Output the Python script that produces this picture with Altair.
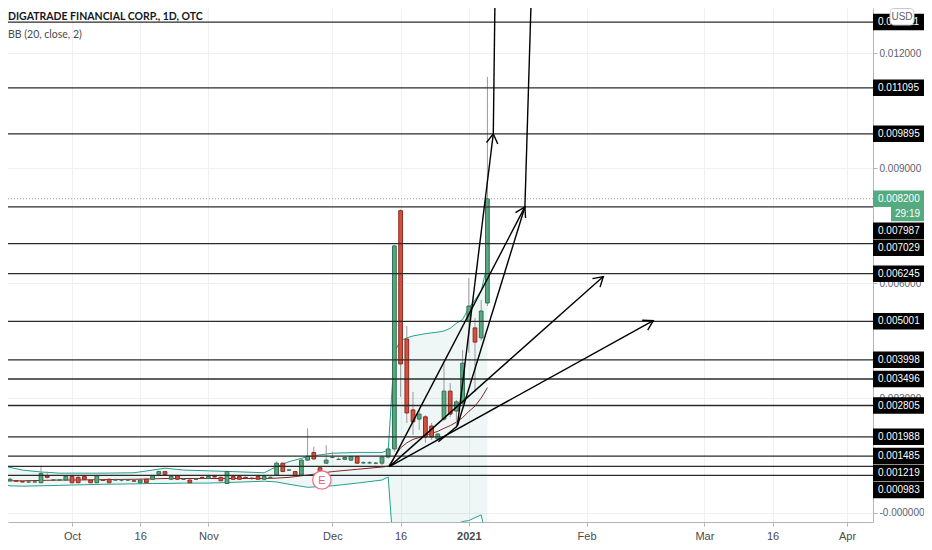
import math
import altair as alt
import pandas as pd

# ---------------- data ----------------
TITLE = "DIGATRADE FINANCIAL CORP., 1D, OTC"
INDICATOR = "BB (20, close, 2)"

bar_idx = list(range(-12, 68))
bar_open = [0.00091, 0.00083, 0.00084, 0.00084, 0.00082, 0.00081, 0.00081, 0.00079, 0.00097, 0.00086,
            0.00086, 0.00086, 0.00095, 0.00093, 0.00095, 0.00086, 0.00079, 0.00086, 0.00088, 0.00086,
            0.00086, 0.00086, 0.00084, 0.00079, 0.00088, 0.00088, 0.00101, 0.00108, 0.00088, 0.00097,
            0.00088, 0.00086, 0.00088, 0.00093, 0.00090, 0.00095, 0.00093, 0.00077, 0.00095, 0.00095,
            0.00093, 0.00091, 0.00095, 0.00088, 0.00093, 0.00099, 0.00130, 0.00112, 0.00108, 0.00099,
            0.00138, 0.00158, 0.00118, 0.00130, 0.00145, 0.00140, 0.00140, 0.00138, 0.00147, 0.00131,
            0.00131, 0.00130, 0.00130, 0.00146, 0.00167, 0.00789, 0.00454, 0.00269, 0.00245, 0.00251,
            0.00227, 0.00193, 0.00245, 0.00318, 0.00266, 0.00287, 0.00500, 0.00483, 0.00457, 0.00548]
bar_high = [0.00095, 0.00086, 0.00092, 0.00086, 0.00084, 0.00083, 0.00083, 0.00123, 0.00108, 0.00088,
            0.00088, 0.00099, 0.00097, 0.00096, 0.00098, 0.00088, 0.00099, 0.00088, 0.00090, 0.00090,
            0.00088, 0.00089, 0.00087, 0.00088, 0.00090, 0.00099, 0.00110, 0.00110, 0.00097, 0.00099,
            0.00090, 0.00088, 0.00090, 0.00095, 0.00096, 0.00097, 0.00095, 0.00110, 0.00097, 0.00097,
            0.00095, 0.00093, 0.00097, 0.00096, 0.00095, 0.00135, 0.00132, 0.00114, 0.00110, 0.00140,
            0.00221, 0.00173, 0.00122, 0.00177, 0.00160, 0.00145, 0.00147, 0.00148, 0.00149, 0.00135,
            0.00135, 0.00133, 0.00150, 0.00172, 0.00700, 0.00792, 0.00488, 0.00316, 0.00269, 0.00255,
            0.00235, 0.00209, 0.00391, 0.00339, 0.00295, 0.00425, 0.00613, 0.00509, 0.00556, 0.01138]
bar_low = [0.00079, 0.00081, 0.00082, 0.00082, 0.00080, 0.00080, 0.00080, 0.00078, 0.00090, 0.00085,
           0.00085, 0.00085, 0.00078, 0.00078, 0.00087, 0.00078, 0.00078, 0.00084, 0.00078, 0.00084,
           0.00082, 0.00084, 0.00082, 0.00078, 0.00078, 0.00087, 0.00100, 0.00099, 0.00086, 0.00086,
           0.00086, 0.00078, 0.00086, 0.00090, 0.00089, 0.00093, 0.00083, 0.00076, 0.00087, 0.00087,
           0.00091, 0.00086, 0.00087, 0.00087, 0.00091, 0.00097, 0.00107, 0.00110, 0.00095, 0.00098,
           0.00136, 0.00139, 0.00106, 0.00129, 0.00143, 0.00138, 0.00138, 0.00136, 0.00128, 0.00128,
           0.00128, 0.00127, 0.00125, 0.00142, 0.00160, 0.00303, 0.00235, 0.00204, 0.00217, 0.00183,
           0.00191, 0.00190, 0.00240, 0.00250, 0.00222, 0.00280, 0.00418, 0.00316, 0.00450, 0.00540]
bar_close = [0.00080, 0.00083, 0.00088, 0.00083, 0.00081, 0.00081, 0.00081, 0.00103, 0.00093, 0.00086,
             0.00086, 0.00096, 0.00079, 0.00079, 0.00088, 0.00079, 0.00097, 0.00085, 0.00079, 0.00086,
             0.00086, 0.00086, 0.00083, 0.00086, 0.00079, 0.00097, 0.00108, 0.00100, 0.00095, 0.00088,
             0.00088, 0.00079, 0.00088, 0.00092, 0.00095, 0.00094, 0.00084, 0.00108, 0.00088, 0.00088,
             0.00092, 0.00090, 0.00088, 0.00095, 0.00093, 0.00130, 0.00108, 0.00112, 0.00097, 0.00138,
             0.00148, 0.00141, 0.00108, 0.00138, 0.00145, 0.00140, 0.00145, 0.00147, 0.00130, 0.00131,
             0.00131, 0.00130, 0.00146, 0.00167, 0.00697, 0.00389, 0.00261, 0.00238, 0.00258, 0.00198,
             0.00198, 0.00206, 0.00318, 0.00258, 0.00290, 0.00391, 0.00540, 0.00446, 0.00527, 0.00820]

bb_idx = [-12, -10, -8, -5, -2, 0, 5, 10, 13, 15, 18, 22, 26, 31, 33, 35, 38, 42, 46, 50, 51,
          52, 53, 54, 55, 56, 57, 58, 59, 60, 61, 62, 63, 64, 65, 66, 67]
bb_upper = [0.00127, 0.00119, 0.00112, 0.00107, 0.00104, 0.00104, 0.00104, 0.00105, 0.00112, 0.00117,
            0.00112, 0.00110, 0.00108, 0.00105, 0.00121, 0.00134, 0.00147, 0.00156, 0.00158, 0.00158,
            0.00164, 0.00420, 0.00450, 0.00457, 0.00462, 0.00465, 0.00468, 0.00470, 0.00472, 0.00475,
            0.00482, 0.00495, 0.00505, 0.00535, 0.00556, 0.00580, 0.00650]
bb_basis = [0.00083, 0.00084, 0.00084, 0.00085, 0.00086, 0.00086, 0.00087, 0.00088, 0.00089, 0.00090,
            0.00090, 0.00090, 0.00090, 0.00090, 0.00091, 0.00093, 0.00099, 0.00108, 0.00114, 0.00120,
            0.00122, 0.00145, 0.00170, 0.00183, 0.00192, 0.00197, 0.00203, 0.00208, 0.00213, 0.00221,
            0.00228, 0.00237, 0.00249, 0.00265, 0.00279, 0.00300, 0.00327]
bb_lower = [0.00076, 0.00071, 0.00070, 0.00071, 0.00072, 0.00073, 0.00075, 0.00076, 0.00077, 0.00077,
            0.00078, 0.00078, 0.00080, 0.00083, 0.00081, 0.00075, 0.00067, 0.00071, 0.00078, 0.00086,
            0.00094, -0.00130, -0.00110, -0.00100, -0.00090, -0.00080, -0.00070, -0.00060, -0.00050,
            -0.00045, -0.00040, -0.00030, -0.00022, -0.00020, -0.00012, -0.00005, -0.00080]

tick_idx = [0, 11, 22, 42, 53, 64, 83, 102, 113, 125]
tick_lbl = ["Oct", "16", "Nov", "Dec", "16", "2021", "Feb", "Mar", "16", "Apr"]
price_ticks = [0.0, 0.003, 0.006, 0.009, 0.012]

levels = [0.012811, 0.011095, 0.009895, 0.007987, 0.007029, 0.006245, 0.005001,
          0.003998, 0.003496, 0.002805, 0.001988, 0.001485, 0.001219, 0.000983]
last_price = 0.008200
countdown = "29:19"

# drawing anchor points (bar index, price)
pt_name = ["O1", "O2", "P", "A", "B", "C", "D", "At", "Bt"]
pt_x = [51.2, 62.15, 59.1, 67.95, 73.05, 85.7, 93.75, 68.26, 74.15]
pt_y = [0.00121, 0.00227, 0.00186, 0.009895, 0.007987, 0.00617, 0.00502, 0.0139, 0.0139]
seg_from = ["O1", "O1", "O1", "O2", "O2", "P", "A", "B"]
seg_to = ["B", "C", "D", "A", "B", "O2", "At", "Bt"]
head_from = ["O2", "O1", "O1", "O1"]
head_at = ["A", "B", "C", "D"]

earnings_idx = [40.3]

# ---------------- layout ----------------
W, H = 865, 514
RPAD, BPAD = 51, 20
XMIN, XMAX = -10.323, 129.194
YMIN, YMAX = -0.000235, 0.013178
kx = W / (XMAX - XMIN)
ky = H / (YMAX - YMIN)

FONT = "Liberation Sans"
UPF, UPS, DNF, DNS = "#5aa882", "#2f6e50", "#d6503f", "#8c2b20"
GRID = "#eef0f4"
AXC = "#b2b5be"

xs = alt.Scale(domain=[XMIN, XMAX], nice=False, zero=False)
ys = alt.Scale(domain=[YMIN, YMAX], nice=False, zero=False)

x_expr = "".join(f"datum.value == {v} ? '{l}' : " for v, l in zip(tick_idx, tick_lbl)) + "''"
xaxis = alt.Axis(values=tick_idx, labelExpr=x_expr, title=None, grid=True, gridColor=GRID,
                 domainColor=AXC, tickColor=AXC, tickSize=4, labelPadding=4, labelFontSize=11,
                 labelColor="#4a4a4a", labelFont=FONT,
                 labelFontWeight={"condition": {"test": "datum.value == 64", "value": "bold"},
                                  "value": "normal"})
yaxis = alt.Axis(orient="right", values=price_ticks, title=None, grid=True, gridColor=GRID,
                 labelExpr="datum.value == 0 ? '-0.000000' : format(datum.value, '.6f')",
                 domainColor=AXC, tickColor=AXC, tickSize=4, labelPadding=2, labelFontSize=10,
                 labelColor="#5d606b", labelFont=FONT)


def X(f):
    return alt.X(f, type="quantitative", scale=xs, axis=xaxis)


def Y(f):
    return alt.Y(f, type="quantitative", scale=ys, axis=yaxis)


bars = pd.DataFrame({"idx": bar_idx, "o": bar_open, "h": bar_high, "l": bar_low, "c": bar_close})
bb = pd.DataFrame({"idx": bb_idx, "up": bb_upper, "mid": bb_basis, "lo": bb_lower})

pts = {n: (x, y) for n, x, y in zip(pt_name, pt_x, pt_y)}
segs = pd.DataFrame({
    "x1": [pts[a][0] for a in seg_from], "y1": [pts[a][1] for a in seg_from],
    "x2": [pts[b][0] for b in seg_to], "y2": [pts[b][1] for b in seg_to],
})
heads = []
for a, b in zip(head_from, head_at):
    dx = (pts[b][0] - pts[a][0]) * kx
    dy = (pts[b][1] - pts[a][1]) * ky
    ang = math.degrees(math.atan2(dx, dy)) % 360
    heads.append({"x": pts[b][0], "y": pts[b][1], "ang": ang})
heads = pd.DataFrame(heads)

# price-scale label boxes with simple collision avoidance (push down)
items = [{"anchor": last_price, "order": 0, "px": (YMAX - last_price) * ky,
          "text": f"{last_price:.6f}", "kind": "last"},
         {"anchor": last_price, "order": 1, "px": (YMAX - last_price) * ky + 15,
          "text": countdown, "kind": "count"}]
for v in levels:
    items.append({"anchor": v, "order": 0, "px": (YMAX - v) * ky, "text": f"{v:.6f}", "kind": "level"})
items.sort(key=lambda d: (-d["anchor"], d["order"]))
prev = None
for it in items:
    if prev is not None:
        gap = 15 if it["kind"] == "count" else 17
        it["px"] = max(it["px"], prev["px"] + gap)
    prev = it
for it in items:
    it["yp"] = YMAX - it["px"] / ky
lab = pd.DataFrame(items)
lab_level = lab[lab.kind == "level"]
lab_last = lab[lab.kind == "last"]
lab_count = lab[lab.kind == "count"]

# box geometry on the price scale (pixels right of the plot)
BOX_L, BOX_R = W, W + RPAD
BOX_W = BOX_R - BOX_L
BOX_CX = (BOX_L + BOX_R) / 2
BOX = f"M -1 {-8.25 / (BOX_W / 2):.3f} L 1 {-8.25 / (BOX_W / 2):.3f} L 1 {8.25 / (BOX_W / 2):.3f} L -1 {8.25 / (BOX_W / 2):.3f} Z"
CNT_L = W + 18
CNT_W = BOX_R - CNT_L
CNT_CX = (CNT_L + BOX_R) / 2
CNT = f"M -1 {-7.5 / (CNT_W / 2):.3f} L 1 {-7.5 / (CNT_W / 2):.3f} L 1 {7.5 / (CNT_W / 2):.3f} L -1 {7.5 / (CNT_W / 2):.3f} Z"

# ---------------- layers ----------------
band_fill = alt.Chart(bb).mark_area(clip=True, color="#138484", opacity=0.07).encode(
    x=X("idx"), y=Y("up"), y2=alt.Y2("lo"))
band_up = alt.Chart(bb).mark_line(clip=True, color="#26a08f", strokeWidth=1).encode(x=X("idx"), y=Y("up"))
band_lo = alt.Chart(bb).mark_line(clip=True, color="#26a08f", strokeWidth=1).encode(x=X("idx"), y=Y("lo"))
band_mid = alt.Chart(bb).mark_line(clip=True, color="#8b2525", strokeWidth=1).encode(x=X("idx"), y=Y("mid"))

wicks = alt.Chart(bars).mark_rule(clip=True, color="#9a9a9a", strokeWidth=1).encode(
    x=X("idx"), y=Y("l"), y2=alt.Y2("h"))
is_up = "datum.c >= datum.o"
bodies = alt.Chart(bars).transform_calculate(
    bx1="datum.idx - 0.3", bx2="datum.idx + 0.3",
    blo="min(datum.o, datum.c)", bhi="max(datum.o, datum.c)"
).mark_rect(clip=True, strokeWidth=1).encode(
    x=X("bx1:Q"), x2=alt.X2("bx2:Q"), y=Y("blo:Q"), y2=alt.Y2("bhi:Q"),
    fill=alt.condition(is_up, alt.value(UPF), alt.value(DNF)),
    stroke=alt.condition(is_up, alt.value(UPS), alt.value(DNS)))

lvl_lines = alt.Chart(pd.DataFrame({"lvl": levels})).mark_rule(color="#2b2b2b", strokeWidth=1.3).encode(
    y=Y("lvl"))
last_line = alt.Chart(pd.DataFrame({"p": [last_price]})).mark_rule(
    color="#9aa0a6", strokeDash=[1, 2], strokeWidth=1).encode(y=Y("p"))

seg_lines = alt.Chart(segs).mark_rule(clip=True, color="#000000", strokeWidth=1.4).encode(
    x=X("x1"), y=Y("y1"), x2=alt.X2("x2"), y2=alt.Y2("y2"))
arrow_heads = alt.Chart(heads).mark_point(
    clip=True, shape="M -0.6 1 L 0 0 L 0.6 1", filled=False, size=360, stroke="#000000",
    strokeWidth=1.4, opacity=1).encode(x=X("x"), y=Y("y"), angle=alt.Angle("ang:Q", scale=None))

earn = pd.DataFrame({"idx": earnings_idx, "t": ["E"]})
earn_c = alt.Chart(earn).mark_point(shape="circle", size=340, filled=True, fill="#ffffff",
                                    stroke="#ec7184", strokeWidth=1.2, opacity=1).encode(
    x=X("idx"), y=alt.value(472))
earn_t = alt.Chart(earn).mark_text(color="#e35d72", fontSize=11, font=FONT, baseline="middle").encode(
    x=X("idx"), y=alt.value(472.5), text="t:N")

title_t = alt.Chart(pd.DataFrame({"t": [TITLE]})).mark_text(
    align="left", baseline="middle", fontSize=10.5, fontWeight="bold", font="Lato", color="#131722"
).encode(x=alt.value(0), y=alt.value(9), text="t:N")
ind_t = alt.Chart(pd.DataFrame({"t": [INDICATOR]})).mark_text(
    align="left", baseline="middle", fontSize=10.5, font="Lato", color="#4a4a4a"
).encode(x=alt.value(0), y=alt.value(26.5), text="t:N")

box_lvl = alt.Chart(lab_level).mark_point(shape=BOX, filled=True, size=BOX_W ** 2, color="#000000",
                                           opacity=1, strokeWidth=0).encode(
    x=alt.value(BOX_CX), y=Y("yp"))
txt_lvl = alt.Chart(lab_level).mark_text(align="left", baseline="middle", color="#ffffff",
                                          fontSize=10, font=FONT).encode(
    x=alt.value(W + 5), y=Y("yp"), text="text:N")
box_last = alt.Chart(lab_last).mark_point(shape=BOX, filled=True, size=BOX_W ** 2, color="#55ab80",
                                           opacity=1, strokeWidth=0).encode(
    x=alt.value(BOX_CX), y=Y("yp"))
txt_last = alt.Chart(lab_last).mark_text(align="left", baseline="middle", color="#ffffff",
                                          fontSize=10, font=FONT).encode(
    x=alt.value(W + 5), y=Y("yp"), text="text:N")
box_cnt = alt.Chart(lab_count).mark_point(shape=CNT, filled=True, size=CNT_W ** 2, color="#55ab80",
                                           opacity=1, strokeWidth=0).encode(
    x=alt.value(CNT_CX), y=Y("yp"))
txt_cnt = alt.Chart(lab_count).mark_text(align="center", baseline="middle", color="#ffffff",
                                          fontSize=10, font=FONT).encode(
    x=alt.value(CNT_CX), y=Y("yp"), text="text:N")

usd = pd.DataFrame({"t": ["USD"]})
usd_box = alt.Chart(usd).mark_rect(fill="#ffffff", stroke="#c5c8ce", strokeWidth=1, cornerRadius=4).encode(
    x=alt.value(882), x2=alt.value(906), y=alt.value(0.5), y2=alt.value(17))
usd_t = alt.Chart(usd).mark_text(fontSize=10, font=FONT, color="#5d606b", baseline="middle").encode(
    x=alt.value(894), y=alt.value(9), text="t:N")

chart = alt.layer(
    band_fill, band_up, band_lo, band_mid, wicks, bodies, lvl_lines, last_line,
    seg_lines, arrow_heads, earn_c, earn_t, title_t, ind_t,
    box_lvl, txt_lvl, box_last, txt_last, box_cnt, txt_cnt, usd_box, usd_t
).properties(
    width=W, height=H,
    padding={"left": 0, "top": 0, "right": RPAD, "bottom": BPAD},
    autosize=alt.AutoSizeParams(type="none"),
).configure_view(stroke=None)

chart.save("out.html", embed_options={"renderer": "svg", "actions": False})
